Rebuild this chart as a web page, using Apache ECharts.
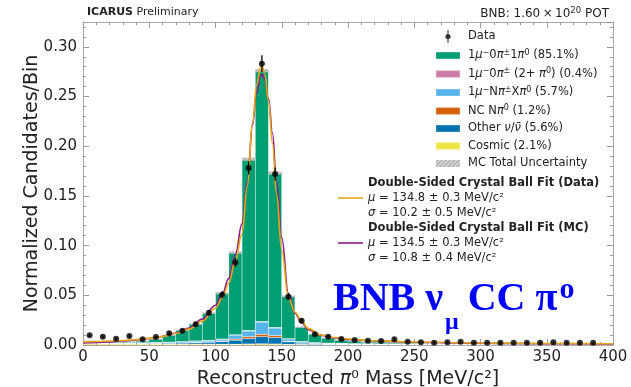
<!DOCTYPE html>
<html><head><meta charset="utf-8">
<script src="https://cdn.jsdelivr.net/npm/echarts@6/dist/echarts.min.js"></script>
<style>html,body{margin:0;padding:0;background:#fff}#c{width:631px;height:387px}</style>
</head><body><div id="c"></div>
<script>
// ---- bins (10 MeV/c^2) ----
const binCenters = [5,15,25,35,45,55,65,75,85,95,105,115,125,135,145,155,165,175,185,195,205,215,225,235,245,255,265,275,285,295,305,315,325,335,345,355,365,375,385,395];

// ---- MC stacked components (bottom to top) ----
const cosmic = [0.0012,0.0012,0.0011,0.0011,0.0010,0.0010,0.0009,0.0009,0.0009,0.0009,0.0008,0.0008,0.0010,0.0012,0.0010,0.0007,0.0006,0.0005,0.0005,0.0005,0.0004,0.0004,0.0004,0.0004,0.0003,0.0003,0.0003,0.0003,0.0003,0.0003,0.0002,0.0002,0.0002,0.0002,0.0002,0.0002,0.0002,0.0002,0.0002,0.0002];
const otherNu = [0.0006,0.0005,0.0005,0.0005,0.0006,0.0007,0.0009,0.0011,0.0014,0.0018,0.0026,0.0040,0.0055,0.0072,0.0065,0.0025,0.0012,0.0008,0.0006,0.0005,0.0004,0.0004,0.0003,0.0003,0.0003,0.0002,0.0002,0.0002,0.0002,0.0002,0.0002,0.0002,0.0001,0.0001,0.0001,0.0001,0.0001,0.0001,0.0001,0.0001];
const ncPi0 = [0.0001,0.0001,0.0001,0.0001,0.0001,0.0002,0.0002,0.0002,0.0003,0.0004,0.0006,0.0011,0.0018,0.0023,0.0020,0.0006,0.0003,0.0002,0.0001,0.0001,0.0001,0.0001,0.0001,0.0001,0.0001,0,0,0,0,0,0,0,0,0,0,0,0,0,0,0];
const multiPi = [0.0006,0.0006,0.0006,0.0006,0.0007,0.0008,0.0009,0.0011,0.0013,0.0014,0.0017,0.0040,0.0057,0.0123,0.0075,0.0022,0.0012,0.0009,0.0007,0.0006,0.0005,0.0005,0.0004,0.0004,0.0003,0.0003,0.0003,0.0002,0.0002,0.0002,0.0002,0.0002,0.0002,0.0001,0.0001,0.0001,0.0001,0.0001,0.0001,0.0001];
const twoPi0 = [0,0,0,0,0,0,0,0.0001,0.0002,0.0002,0.0003,0.0004,0.0005,0.0006,0.0005,0.0003,0.0002,0.0001,0,0,0,0,0,0,0,0,0,0,0,0,0,0,0,0,0,0,0,0,0,0];
const signal = [0.0016,0.0009,0.0010,0.0010,0.0016,0.0033,0.0071,0.0116,0.0169,0.0273,0.0460,0.0827,0.1725,0.2524,0.1555,0.0427,0.0145,0.0085,0.0051,0.0033,0.0026,0.0016,0.0018,0.0013,0.0010,0.0007,0.0005,0.0005,0.0004,0.0003,0.0003,0.0002,0.0003,0.0003,0.0003,0.0002,0.0002,0.0001,0.0001,0.0001];
const mcUnc = [0.0003,0.0003,0.0003,0.0003,0.0003,0.0004,0.0005,0.0006,0.0007,0.0008,0.0010,0.0012,0.0016,0.0016,0.0015,0.0009,0.0006,0.0005,0.0004,0.0003,0.0003,0.0003,0.0003,0.0003,0.0002,0.0002,0.0002,0.0002,0.0002,0.0002,0.0002,0.0002,0.0002,0.0002,0.0002,0.0002,0.0002,0.0002,0.0002,0.0002];

// ---- Data ----
const dataVals = [0.0097,0.0084,0.0063,0.0090,0.0057,0.0080,0.0118,0.0144,0.0210,0.0325,0.0506,0.0830,0.1780,0.2830,0.1720,0.0486,0.0244,0.0108,0.0084,0.0060,0.0050,0.0043,0.0040,0.0057,0.0033,0.0027,0.0023,0.0027,0.0033,0.0023,0.0023,0.0023,0.0023,0.0023,0.0023,0.0027,0.0023,0.0023,0.0023,null];
const dataErr = [0.0015,0.0015,0.0013,0.0015,0.0012,0.0014,0.0017,0.0019,0.0022,0.0028,0.0035,0.0045,0.0065,0.0085,0.0065,0.0033,0.0023,0.0016,0.0014,0.0012,0.0011,0.0010,0.0010,0.0012,0.0009,0.0008,0.0008,0.0008,0.0009,0.0008,0.0008,0.0008,0.0008,0.0008,0.0008,0.0008,0.0008,0.0008,0.0008,null];

// ---- Fit curves ----
const fitX = [0,10,20,30,40,50,60,70,80,90,100,105,110,115,120,124,128,131,134,135,137,140,143,146,150,155,160,165,170,180,190,200,220,250,300,350,400];
const fitDataY = [0.0030,0.0035,0.0040,0.0045,0.0055,0.0068,0.0085,0.0115,0.0160,0.0240,0.0370,0.0470,0.0620,0.0850,0.1120,0.1600,0.2240,0.2610,0.2800,0.2810,0.2740,0.2460,0.2030,0.1530,0.0950,0.0480,0.0330,0.0240,0.0165,0.0100,0.0075,0.0060,0.0043,0.0030,0.0020,0.0015,0.0012];
const fitMCY = [0.0020,0.0025,0.0030,0.0040,0.0050,0.0065,0.0085,0.0120,0.0170,0.0260,0.0400,0.0510,0.0670,0.0910,0.1220,0.1640,0.2220,0.2540,0.2710,0.2720,0.2680,0.2480,0.2130,0.1650,0.1080,0.0520,0.0320,0.0225,0.0155,0.0095,0.0070,0.0055,0.0040,0.0028,0.0018,0.0013,0.0010];

// ---- tick labels ----
const xTicks = [0,50,100,150,200,250,300,350,400];
const yTicks = [0.00,0.05,0.10,0.15,0.20,0.25,0.30];

const NAMES = {
  data:'Data', sig:'1μ⁻0π±1π⁰ (85.1%)', two:'1μ⁻0π± (2+ π⁰) (0.4%)', npi:'1μ⁻Nπ±Xπ⁰ (5.7%)',
  nc:'NC Nπ⁰ (1.2%)', oth:'Other ν/ν̄ (5.6%)', cos:'Cosmic (2.1%)', unc:'MC Total Uncertainty',
  fd:'Double-Sided Crystal Ball Fit (Data)', fm:'Double-Sided Crystal Ball Fit (MC)'
};
const RICH = {};
RICH[NAMES.data] = 'Data';
RICH[NAMES.sig] = '1{i|μ}{s|−}0{i|π}{s|±}1{i|π}{s|0} (85.1%)';
RICH[NAMES.two] = '1{i|μ}{s|−}0{i|π}{s|±} (2+ {i|π}{s|0}) (0.4%)';
RICH[NAMES.npi] = '1{i|μ}{s|−}N{i|π}{s|±}X{i|π}{s|0} (5.7%)';
RICH[NAMES.nc] = 'NC N{i|π}{s|0} (1.2%)';
RICH[NAMES.oth] = 'Other {i|ν}/{i|ν̄} (5.6%)';
RICH[NAMES.cos] = 'Cosmic (2.1%)';
RICH[NAMES.unc] = 'MC Total Uncertainty';
RICH[NAMES.fd] = '{b|Double-Sided Crystal Ball Fit (Data)}\n{i|μ}{n| = 134.8 ± 0.3 MeV/c²}\n{i|σ}{n| = 10.2 ± 0.5 MeV/c²}';
RICH[NAMES.fm] = '{b|Double-Sided Crystal Ball Fit (MC)}\n{i|μ}{n| = 134.5 ± 0.3 MeV/c²}\n{i|σ}{n| = 10.8 ± 0.4 MeV/c²}';

const FONT = 'DejaVu Sans';
const cats = binCenters.map(String);
const total = binCenters.map((_, i) => cosmic[i] + otherNu[i] + ncPi0[i] + multiPi[i] + twoPi0[i] + signal[i]);
const uncBase = total.map((t, i) => t - mcUnc[i]);
const uncBand = mcUnc.map(u => 2 * u);
const pts = binCenters.map((x, i) => [x, dataVals[i], dataErr[i]]).filter(p => p[1] != null);

const swatch = 'path://M0,0h24v7h-24z';
const lineIcon = 'path://M0,0h25v1.6h-25z';
const dataIcon = 'path://M11.5,0h1v13h-1z M14.6,6.5A2.6,2.6 0 1 1 9.4,6.5A2.6,2.6 0 1 1 14.6,6.5Z';

// big annotation: measure pieces so they flow horizontally
const BIG = 'bold 40px "Liberation Serif"', SUB = 'bold 24px "Liberation Serif"', SUP = 'bold 30px "Liberation Serif"';
const mctx = document.createElement('canvas').getContext('2d');
function tw(font, s) { mctx.font = font; return mctx.measureText(s).width; }
const ax0 = 333;
const ax1 = ax0 + tw(BIG, 'BNB ν') + 2;
const ax2 = ax1 + tw(SUB, 'μ') + 9;
const ax3 = ax2 + tw(BIG, 'CC π') + 2;

function stackBar(name, arr, color) {
  return { name, type:'bar', xAxisIndex:1, yAxisIndex:0, stack:'mc', data:arr, barWidth:'100%', barGap:'-100%', barCategoryGap:'0%',
    itemStyle:{color, borderColor:'rgba(255,255,255,0.18)', borderWidth:0.5}, emphasis:{disabled:true}, silent:true, z:2 };
}

const tickStyle = {color:'#9a9a9a', width:1};
function xAx(pos, labels) {
  return { type:'value', position:pos, min:0, max:400, interval:50, gridIndex:0,
    axisLine:{show:true, onZero:false, lineStyle:{color:'#a8a8a8', width:1}},
    axisTick:{show:true, inside:true, length:6, lineStyle:tickStyle},
    minorTick:{show:true, splitNumber:5, length:3, lineStyle:tickStyle},
    splitLine:{show:false}, minorSplitLine:{show:false},
    axisLabel:{show:labels, fontFamily:FONT, fontSize:15, color:'#222', margin:5,
      formatter: v => xTicks.includes(v) ? String(v) : ''},
    name: labels ? 'Reconstructed {i|π}⁰ Mass [MeV/c²]' : '', nameLocation:'middle', nameGap:18,
    nameTextStyle:{fontFamily:FONT, fontSize:19, color:'#222', rich:{i:{fontFamily:FONT, fontSize:19, fontStyle:'italic', color:'#222'}}} };
}
function yAx(pos, major, labels) {
  return { type:'value', position:pos, min:0, max:0.325, interval: major ? 0.05 : 0.01, gridIndex:0,
    axisLine:{show:major, onZero:false, lineStyle:{color:'#a8a8a8', width:1}},
    axisTick:{show:true, inside:true, length: major ? 6 : 3, lineStyle:tickStyle},
    splitLine:{show:false},
    axisLabel:{show:labels, showMaxLabel:false, fontFamily:FONT, fontSize:15, color:'#222', margin:6,
      formatter: v => { const t = yTicks.find(k => Math.abs(k - v) < 1e-9); return t === undefined ? '' : t.toFixed(2); }},
    name: labels ? 'Normalized Candidates/Bin' : '', nameLocation:'middle', nameGap:41, nameMoveOverlap:false,
    nameTextStyle:{fontFamily:FONT, fontSize:19, color:'#222'} };
}

const chart = echarts.init(document.getElementById('c'), null, {renderer:'canvas'});
chart.setOption({
  animation:false,
  backgroundColor:'#fff',
  grid:{left:83, right:18, top:22, bottom:42, containLabel:false, outerBoundsMode:'none'},
  title:[
    {text:'{b|ICARUS} Preliminary', left:82, top:2, textStyle:{fontFamily:FONT, fontSize:11, fontWeight:'normal', color:'#222',
      rich:{b:{fontFamily:FONT, fontSize:11, fontWeight:'bold', color:'#222'}}}},
    {text:'{n|BNB: 1.60\u2009×\u200910}{s|20}{n| POT}', right:17, top:1, textStyle:{fontFamily:FONT, fontSize:12, fontWeight:'normal', color:'#222',
      rich:{n:{fontFamily:FONT, fontSize:12, color:'#222'}, s:{fontFamily:FONT, fontSize:8.5, color:'#222', padding:[0,0,7,0]}}}}
  ],
  xAxis:[ xAx('bottom', true),
    {type:'category', data:cats, gridIndex:0, show:false, boundaryGap:true},
    xAx('top', false) ],
  yAxis:[ yAx('left', true, true), yAx('left', false, false), yAx('right', true, false), yAx('right', false, false) ],
  legend:[
    {orient:'vertical', left:430, top:25, itemWidth:24, itemHeight:13, itemGap:5.5, selectedMode:false,
     textStyle:{fontFamily:FONT, fontSize:11.5, color:'#222', padding:[0,0,0,3],
       rich:{i:{fontFamily:FONT, fontSize:11.5, fontStyle:'italic', color:'#222'}, s:{fontFamily:FONT, fontSize:8, color:'#222', padding:[0,0,6,0]}}},
     formatter: n => RICH[n],
     data:[{name:NAMES.data, icon:dataIcon},{name:NAMES.sig, icon:swatch},{name:NAMES.two, icon:swatch},{name:NAMES.npi, icon:swatch},
           {name:NAMES.nc, icon:swatch},{name:NAMES.oth, icon:swatch},{name:NAMES.cos, icon:swatch},{name:NAMES.unc, icon:swatch}]},
    {orient:'vertical', left:333, top:172, itemWidth:25, itemHeight:13, itemGap:3, selectedMode:false,
     textStyle:{fontFamily:FONT, fontSize:11.5, color:'#222', padding:[0,0,0,0],
       rich:{b:{fontFamily:FONT, fontSize:11.5, fontWeight:'bold', color:'#222', lineHeight:15},
             n:{fontFamily:FONT, fontSize:11.5, color:'#222', lineHeight:15},
             i:{fontFamily:FONT, fontSize:11.5, fontStyle:'italic', color:'#222', lineHeight:15}}},
     formatter: n => RICH[n],
     data:[{name:NAMES.fd, icon:lineIcon},{name:NAMES.fm, icon:lineIcon}]}
  ],
  graphic:[
    {type:'text', x:ax0, y:300, z:50, style:{text:'BNB ν', font:BIG, fill:'#0000ff', verticalAlign:'middle'}},
    {type:'text', x:ax1, y:323, z:50, style:{text:'μ', font:SUB, fill:'#0000ff', verticalAlign:'middle'}},
    {type:'text', x:ax2, y:300, z:50, style:{text:'CC π', font:BIG, fill:'#0000ff', verticalAlign:'middle'}},
    {type:'text', x:ax3, y:290, z:50, style:{text:'o', font:SUP, fill:'#0000ff', verticalAlign:'middle'}}
  ],
  series:[
    stackBar(NAMES.cos, cosmic, '#F0E442'),
    stackBar(NAMES.oth, otherNu, '#0072B2'),
    stackBar(NAMES.nc, ncPi0, '#D55E00'),
    stackBar(NAMES.npi, multiPi, '#56B4E9'),
    stackBar(NAMES.two, twoPi0, '#CC79A7'),
    stackBar(NAMES.sig, signal, '#009E73'),
    {name:'uncBase', type:'bar', xAxisIndex:1, yAxisIndex:0, stack:'unc', data:uncBase, barWidth:'100%', barGap:'-100%',
     itemStyle:{color:'rgba(0,0,0,0)'}, silent:true, z:3},
    {name:NAMES.unc, type:'bar', xAxisIndex:1, yAxisIndex:0, stack:'unc', data:uncBand, barWidth:'100%', barGap:'-100%',
     itemStyle:{color:'rgba(205,205,205,0.9)', decal:{symbol:'rect', symbolSize:1, dashArrayX:[1,0], dashArrayY:[1,2], rotation:-Math.PI/4, color:'rgba(150,150,150,0.7)'}},
     silent:true, z:3},
    {name:NAMES.fm, type:'line', xAxisIndex:0, yAxisIndex:0, data:fitX.map((x,i)=>[x, fitMCY[i]]), showSymbol:false, symbol:'none',
     smooth:0.4, smoothMonotone:'x', lineStyle:{color:'#8E1B8E', width:1.6}, itemStyle:{color:'#8E1B8E'}, silent:true, z:5},
    {name:NAMES.fd, type:'line', xAxisIndex:0, yAxisIndex:0, data:fitX.map((x,i)=>[x, fitDataY[i]]), showSymbol:false, symbol:'none',
     smooth:0.4, smoothMonotone:'x', lineStyle:{color:'#E6A817', width:1.6}, itemStyle:{color:'#E6A817'}, silent:true, z:6},
    {name:'dataErr', type:'custom', xAxisIndex:0, yAxisIndex:0, data:pts, silent:true, z:7,
     renderItem:(params, api) => {
       const x = api.value(0), y = api.value(1), e = api.value(2);
       const p1 = api.coord([x, y + e]), p2 = api.coord([x, y - e]);
       return {type:'line', shape:{x1:p1[0], y1:p1[1], x2:p2[0], y2:p2[1]}, style:{stroke:'#000', lineWidth:1.3}};
     }},
    {name:NAMES.data, type:'scatter', xAxisIndex:0, yAxisIndex:0, data:pts.map(p=>[p[0],p[1]]), symbol:'circle', symbolSize:6,
     itemStyle:{color:'#000'}, silent:true, z:8}
  ]
});
</script></body></html>
